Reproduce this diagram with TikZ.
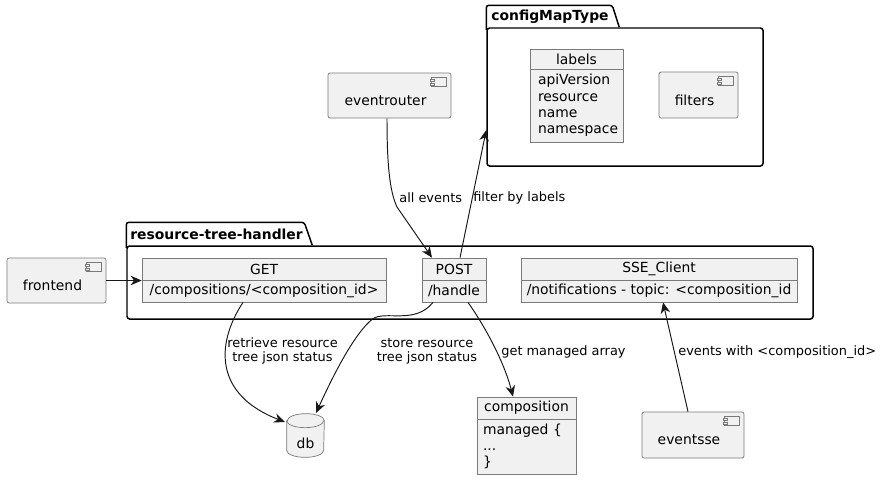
\documentclass[tikz,border=0pt]{standalone}
\usepackage{fontspec}
\setmainfont{DejaVu Sans}
\usepackage{xcolor}
\usepackage{tikz}
\usetikzlibrary{positioning,arrows.meta,calc}

\definecolor{boxfill}{HTML}{F1F1F1}
\definecolor{linegray}{HTML}{7A7A7A}
\definecolor{edgeblack}{HTML}{181818}
\newcommand{\boxfont}{\fontsize{7.9}{9.3}\selectfont}
\newcommand{\edgefont}{\fontsize{7.35}{7.9}\selectfont}
% small UML component glyph in the top right corner of a component
\newcommand{\compicon}[1]{%
  \draw[linegray, fill=boxfill, line width=0.4pt] ([xshift=-0.40cm,yshift=-0.10cm]#1.north east) rectangle ++(0.30,-0.18);
  \draw[linegray, fill=boxfill, line width=0.4pt] ([xshift=-0.43cm,yshift=-0.13cm]#1.north east) rectangle ++(0.08,-0.04);
  \draw[linegray, fill=boxfill, line width=0.4pt] ([xshift=-0.43cm,yshift=-0.21cm]#1.north east) rectangle ++(0.08,-0.04);
}

\begin{document}
\begin{tikzpicture}[
    objhead/.style={draw=linegray, fill=boxfill, inner sep=0pt, line width=0.4pt, font=\boxfont},
    objbody/.style={draw=linegray, fill=boxfill, inner sep=0pt, line width=0.4pt, font=\boxfont},
    comp/.style={draw=linegray, fill=boxfill, rounded corners=1.2pt, inner sep=0pt, line width=0.4pt},
    comptext/.style={font=\boxfont, inner sep=0pt},
    pkg/.style={draw=black, line width=0.85pt, rounded corners=1.5pt},
    pkgtitle/.style={font=\boxfont\bfseries, inner sep=0pt, anchor=west},
    arr/.style={draw=edgeblack, line width=0.55pt, -{Stealth[length=0.22cm, width=0.19cm, inset=0.07cm]}},
    elabel/.style={font=\edgefont, inner sep=0pt},
  ]
    \useasboundingbox (0,0) rectangle (17.68,9.6);

    % package configMapType
    \node[pkg, minimum width=5.52cm, minimum height=2.76cm] (cfgpkg) at (12.50,7.66) {};
    \draw[pkg] ([yshift=-0.05cm]cfgpkg.north west) -- ++(0,0.49) -- ++(2.52,0) -- ++(0.14,-0.44);
    \node[pkgtitle] (cfgtitle) at (9.82,9.26) {configMapType};

    \node[objhead, minimum width=1.86cm, minimum height=0.40cm] (labelshead) at (11.53,8.42) {labels};
    \node[objbody, minimum width=1.86cm, minimum height=1.46cm, text width=1.54cm, inner xsep=0.16cm, align=left] (labelsbody) at (11.53,7.49)
      {apiVersion\\resource\\name\\namespace};

    \node[comp, minimum width=1.58cm, minimum height=0.92cm] (filters) at (13.97,7.70) {};
    \node[comptext] (filterstext) at ([xshift=-0.08cm,yshift=-0.10cm]filters.center) {filters};
    \compicon{filters}

    % eventrouter
    \node[comp, minimum width=2.46cm, minimum height=0.90cm] (eventrouter) at (7.79,7.69) {};
    \node[comptext] (eventroutertext) at ([xshift=-0.08cm,yshift=-0.10cm]eventrouter.center) {eventrouter};
    \compicon{eventrouter}

    % package resource-tree-handler
    \node[pkg, minimum width=13.72cm, minimum height=1.46cm] (rthpkg) at (9.40,3.95) {};
    \draw[pkg] ([yshift=-0.05cm]rthpkg.north west) -- ++(0,0.51) -- ++(3.56,0) -- ++(0.16,-0.46);
    \node[pkgtitle] (rthtitle) at (2.60,4.92) {resource-tree-handler};

    \node[objhead, minimum width=4.88cm, minimum height=0.44cm] (gethead) at (5.28,4.22) {GET};
    \node[objbody, minimum width=4.88cm, minimum height=0.44cm] (getbody) at (5.28,3.78) {/compositions/<composition\_id>};

    \node[objhead, minimum width=1.28cm, minimum height=0.44cm] (posthead) at (9.08,4.22) {POST};
    \node[objbody, minimum width=1.28cm, minimum height=0.44cm] (postbody) at (9.08,3.78) {/handle};

    \node[objhead, minimum width=5.52cm, minimum height=0.44cm] (ssehead) at (13.18,4.22) {SSE\_Client};
    \node[objbody, minimum width=5.52cm, minimum height=0.44cm] (ssebody) at (13.18,3.78) {/notifications - topic: <composition\_id};

    % frontend
    \node[comp, minimum width=1.98cm, minimum height=0.90cm] (frontend) at (1.13,3.99) {};
    \node[comptext] (frontendtext) at ([xshift=-0.08cm,yshift=-0.10cm]frontend.center) {frontend};
    \compicon{frontend}

    % db as a cylinder
    \node[minimum width=0.74cm, minimum height=0.86cm, inner sep=0pt] (db) at (6.11,0.89) {};
    \filldraw[draw=linegray, fill=boxfill, line width=0.4pt] ([yshift=-0.14cm]db.north west) -- ([yshift=0.14cm]db.south west)
      arc[start angle=180, end angle=360, x radius=0.37cm, y radius=0.14cm] -- ([yshift=-0.14cm]db.north east)
      arc[start angle=0, end angle=180, x radius=0.37cm, y radius=0.14cm] -- cycle;
    \draw[linegray, line width=0.4pt] ([yshift=-0.14cm]db.north west) arc[start angle=180, end angle=360, x radius=0.37cm, y radius=0.14cm];
    \node[comptext] (dbtext) at (6.11,0.74) {db};

    \node[objhead, minimum width=1.98cm, minimum height=0.44cm] (comphead) at (10.53,1.44) {composition};
    \node[objbody, minimum width=1.98cm, minimum height=1.10cm, text width=1.74cm, inner xsep=0.12cm, align=left] (compbody) at (10.53,0.67)
      {managed \{\\...\\\}};

    \node[comp, minimum width=2.04cm, minimum height=0.92cm] (eventsse) at (13.86,0.90) {};
    \node[comptext] (eventssetext) at ([xshift=-0.08cm,yshift=-0.10cm]eventsse.center) {eventsse};
    \compicon{eventsse}

    % connectors
    \coordinate (routerbend) at (7.94,5.46);
    \draw[arr] ([xshift=-0.05cm]eventrouter.south) .. controls (7.74,6.4) and (7.78,5.8) .. (routerbend) -- ([xshift=-0.44cm]posthead.north);
    \node[elabel, anchor=west] (alleventslbl) at (7.98,5.64) {all events};

    \draw[arr] ([xshift=0.12cm]posthead.north) -- ([yshift=-0.66cm]cfgpkg.west);
    \node[elabel, anchor=west] (filterlbl) at (9.46,5.64) {filter by labels};

    \draw[arr] (frontend.east) -- (frontend.east -| gethead.west);

    \draw[arr] ([xshift=-0.42cm]getbody.south) .. controls (4.30,2.70) and (4.30,1.70) .. ($(db.center)+(-0.41,0.27)$);
    \node[elabel, align=center] (retrievelbl) at (5.65,2.58) {retrieve resource\\tree json status};

    \draw[arr] ([xshift=-0.42cm]postbody.south) .. controls (8.30,3.10) and (7.70,3.40) .. (7.45,3.22)
      .. controls (7.05,2.90) and (6.60,1.95) .. ($(db.center)+(0.21,0.45)$);
    \node[elabel, align=center] (storelbl) at (8.54,2.58) {store resource\\tree json status};

    \draw[arr] ([xshift=0.28cm]postbody.south) .. controls (9.75,3.00) and (10.10,2.30) .. ([xshift=-0.27cm]comphead.north);
    \node[elabel, anchor=west] (managedlbl) at (10.02,2.56) {get managed array};

    \draw[arr] ([xshift=-0.10cm]eventsse.north) -- ([xshift=0.08cm]ssebody.south);
    \node[elabel, anchor=west] (sselbl) at (13.56,2.56) {events with <composition\_id>};
  \end{tikzpicture}
\end{document}
